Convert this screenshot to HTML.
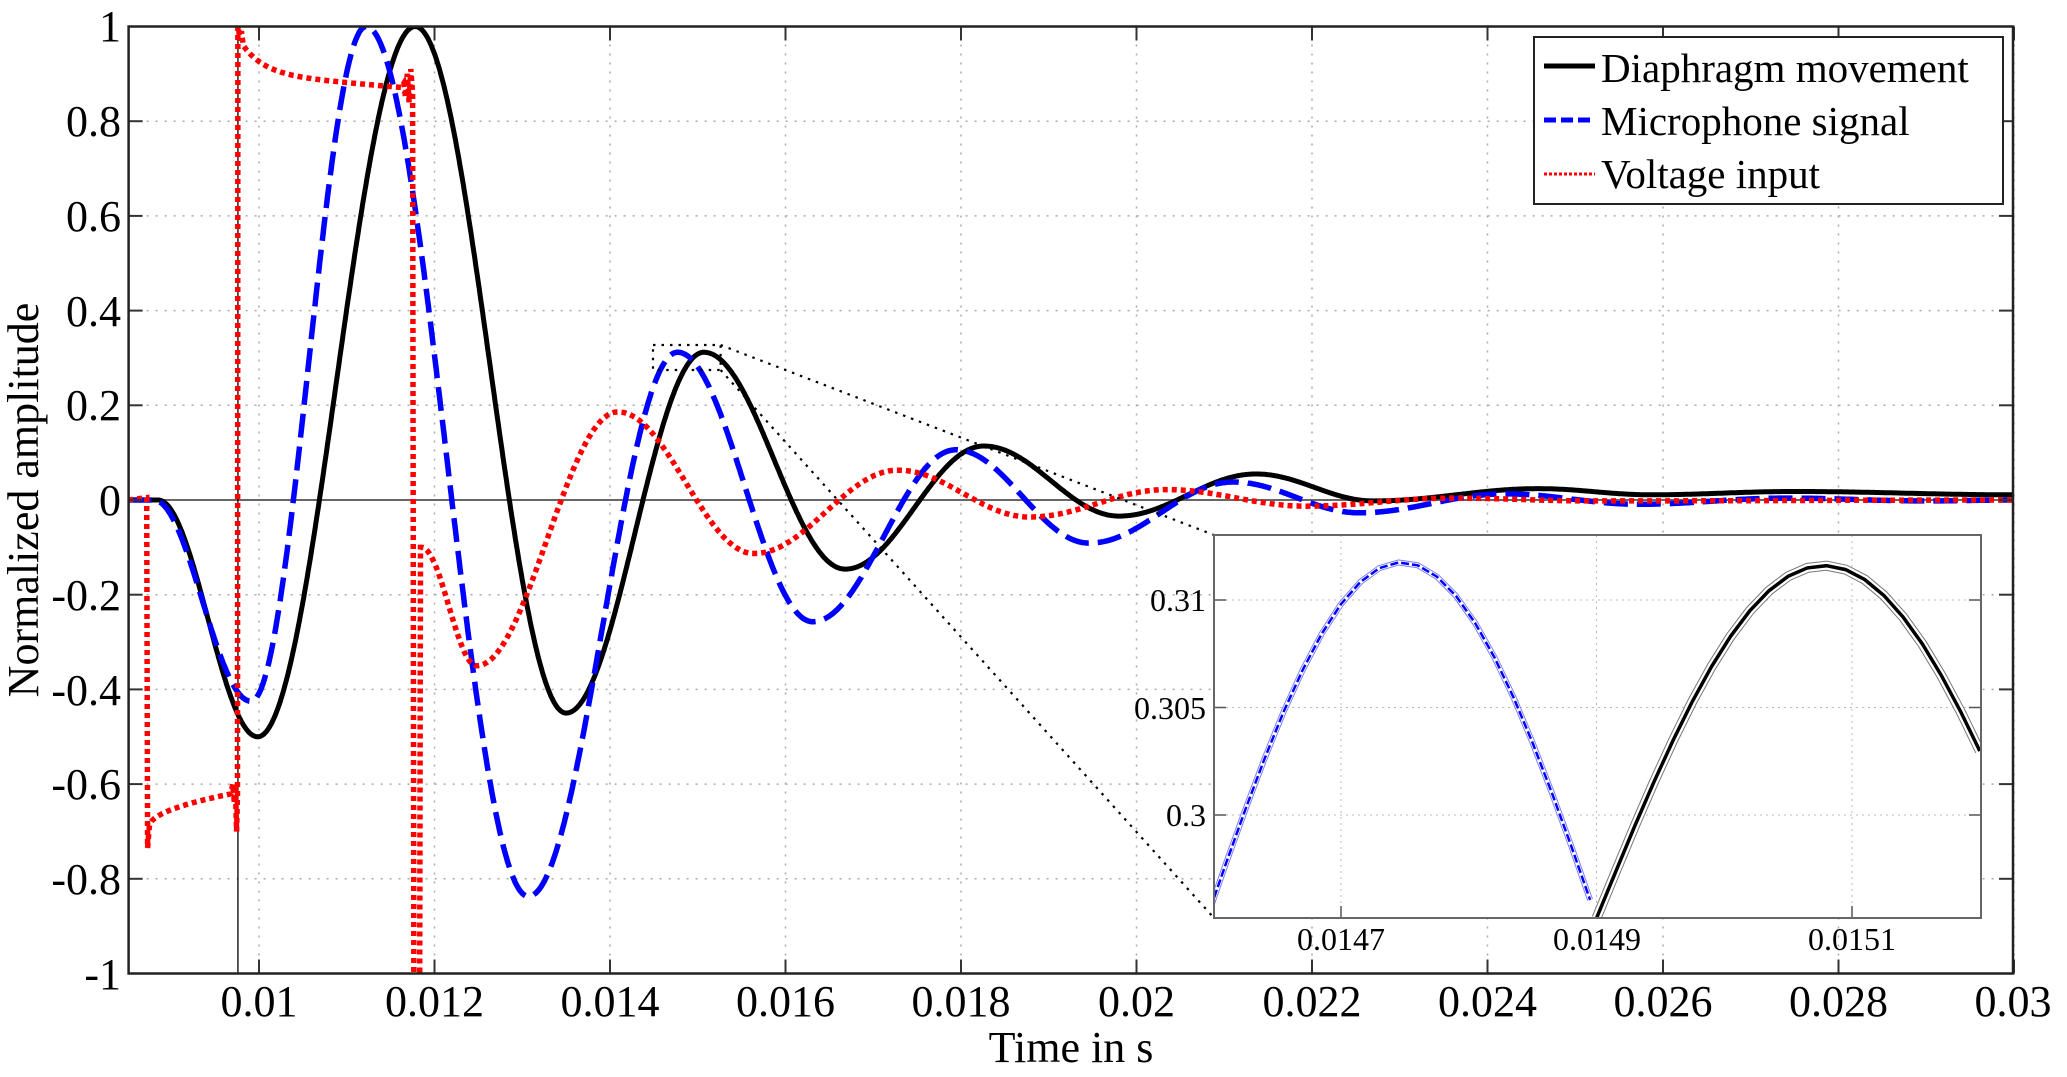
<!DOCTYPE html>
<html><head><meta charset="utf-8">
<style>
html,body{margin:0;padding:0;background:#fff;}
svg{display:block;}
text{font-family:"Liberation Serif","Times New Roman",serif;fill:#000;}
</style></head>
<body>
<svg id="s" width="2067" height="1077" viewBox="0 0 2067 1077" xmlns="http://www.w3.org/2000/svg">
<defs>
<clipPath id="cp"><rect x="128.6" y="26.5" width="1884.4" height="947"/></clipPath>
<clipPath id="ci"><rect x="1214" y="535" width="767" height="383"/></clipPath>
</defs>
<rect width="2067" height="1077" fill="#fff"/>
<g id="grid"></g>
<g id="main" clip-path="url(#cp)"></g>
<g id="frame"></g>
<!-- y tick labels -->
<g font-size="44" text-anchor="end">
<text x="121" y="41">1</text>
<text x="121" y="136">0.8</text>
<text x="121" y="231">0.6</text>
<text x="121" y="326">0.4</text>
<text x="121" y="420">0.2</text>
<text x="121" y="515">0</text>
<text x="121" y="610">-0.2</text>
<text x="121" y="705">-0.4</text>
<text x="121" y="799">-0.6</text>
<text x="121" y="894">-0.8</text>
<text x="121" y="989">-1</text>
</g>
<g font-size="44" text-anchor="middle">
<text x="259" y="1016">0.01</text>
<text x="434.5" y="1016">0.012</text>
<text x="610" y="1016">0.014</text>
<text x="785.5" y="1016">0.016</text>
<text x="961" y="1016">0.018</text>
<text x="1136.5" y="1016">0.02</text>
<text x="1312" y="1016">0.022</text>
<text x="1487.5" y="1016">0.024</text>
<text x="1663" y="1016">0.026</text>
<text x="1838.5" y="1016">0.028</text>
<text x="2013" y="1016">0.03</text>
<text x="1071" y="1062">Time in s</text>
<text transform="translate(38,500) rotate(-90)">Normalized amplitude</text>
</g>
<!-- legend -->
<g>
<rect x="1534" y="37" width="469" height="167" fill="#fff" stroke="#222" stroke-width="2"/>
<line x1="1544" y1="66" x2="1595" y2="66" stroke="#000" stroke-width="5"/>
<line x1="1544" y1="120" x2="1595" y2="120" stroke="#0000ff" stroke-width="5" stroke-dasharray="12 5"/>
<line x1="1544" y1="174" x2="1595" y2="174" stroke="#ff0000" stroke-width="3" stroke-dasharray="3 2"/>
<g font-size="41"><text x="1601" y="82">Diaphragm movement</text>
<text x="1601" y="135">Microphone signal</text>
<text x="1601" y="188">Voltage input</text></g>
</g>
<!-- inset -->
<g id="inset">
<rect x="1214" y="535" width="767" height="383" fill="#fff"/>
<g id="igrid"></g>
<g id="icurves" clip-path="url(#ci)"></g>
<rect x="1214" y="535" width="767" height="383" fill="none" stroke="#666" stroke-width="2"/>
<g font-size="32" text-anchor="end">
<text x="1206" y="611">0.31</text>
<text x="1206" y="719">0.305</text>
<text x="1206" y="826">0.3</text>
</g>
<g font-size="32" text-anchor="middle">
<text x="1341" y="950">0.0147</text>
<text x="1597" y="950">0.0149</text>
<text x="1852" y="950">0.0151</text>
</g>
</g>
</svg>
<script>
var NS="http://www.w3.org/2000/svg";
function el(p,tag,a){var e=document.createElementNS(NS,tag);for(var k in a)e.setAttribute(k,a[k]);p.appendChild(e);return e;}
function X(t){return 259+(t-10)*87.75;}
function Y(v){return 500-v*473.5;}
var grid=document.getElementById('grid'),frame=document.getElementById('frame'),main=document.getElementById('main');
var L=128.6,R=2013,T=26.5,B=973.5;
for(var i=0;i<=10;i++){var x=X(10+2*i);
 el(grid,'line',{x1:x,y1:T,x2:x,y2:B,stroke:'#aaa','stroke-width':1.5,'stroke-dasharray':'2 7'});
 el(frame,'line',{x1:x,y1:B,x2:x,y2:B-14,stroke:'#333','stroke-width':2});
 el(frame,'line',{x1:x,y1:T,x2:x,y2:T+14,stroke:'#333','stroke-width':2});}
for(var j=-5;j<=5;j++){var y=Y(j*0.2);
 if(j!==0&&j!==5&&j!==-5)el(grid,'line',{x1:L,y1:y,x2:R,y2:y,stroke:'#aaa','stroke-width':1.5,'stroke-dasharray':'2 7'});
 el(frame,'line',{x1:L,y1:y,x2:L+14,y2:y,stroke:'#333','stroke-width':2});
 el(frame,'line',{x1:R,y1:y,x2:R-14,y2:y,stroke:'#333','stroke-width':2});}
el(grid,'line',{x1:L,y1:500,x2:R,y2:500,stroke:'#666','stroke-width':2});
el(frame,'rect',{x:L,y:T,width:R-L,height:B-T,fill:'none',stroke:'#222','stroke-width':2.5});

function interp(pts,t){
 if(t<=pts[0][0])return pts[0][1];
 for(var i=0;i<pts.length-1;i++){var a=pts[i],b=pts[i+1];
  if(t<=b[0]){var u=(t-a[0])/(b[0]-a[0]);return a[1]+(b[1]-a[1])*(1-Math.cos(Math.PI*u))/2;}}
 return pts[pts.length-1][1];}
function pathFrom(f,t0,t1,dt){var d='';for(var t=t0;t<=t1+1e-9;t+=dt){d+=(d?'L':'M')+X(t).toFixed(1)+' '+Y(f(t)).toFixed(1);}return d;}

var black=[[8.4,0],[8.85,0],[9.985,-0.5],[11.78,1.0],[13.5,-0.45],[15.07,0.312],[16.68,-0.146],[18.26,0.114],[19.8,-0.034],[21.36,0.055],[22.7,-0.002],[24.58,0.024],[25.86,0.011],[27.5,0.018],[30,0.011]];
var blue=[[8.4,0],[8.8,0],[9.91,-0.425],[11.22,1.0],[13.07,-0.837],[14.77,0.312],[16.31,-0.257],[17.94,0.106],[19.46,-0.091],[21.1,0.038],[22.54,-0.027],[24.2,0.013],[25.72,-0.009],[27.4,0.004],[29,-0.002],[30,0]];
var red=[[11.85,-0.1],[12.48,-0.35],[14.09,0.186],[15.64,-0.113],[17.28,0.063],[18.78,-0.036],[20.34,0.022],[21.93,-0.013],[23.6,0.004],[25.2,-0.002],[30,0]];

// thin black vertical at 9.76
el(main,'line',{x1:X(9.76),y1:Y(1),x2:X(9.76),y2:Y(-1),stroke:'#000','stroke-width':1.3});

// red
var rd='M'+X(8.51)+' '+Y(0);
function addR(t,v){rd+='L'+X(t).toFixed(1)+' '+Y(v).toFixed(1);}
addR(8.72,0.005);addR(8.73,-0.735);addR(8.75,-0.69);
for(var t=8.76;t<=9.68;t+=0.02)addR(t,-0.69+0.07*Math.sqrt((t-8.75)/0.95));
addR(9.70,-0.6);addR(9.72,-0.64);addR(9.73,-0.6);addR(9.745,-0.7);addR(9.755,-0.62);addR(9.76,1.02);addR(9.78,0.97);addR(9.8,0.99);addR(9.82,0.96);
for(var t=9.84;t<=11.62;t+=0.02)addR(t,0.87+0.065*Math.exp(-(t-9.8)/0.25)+0.03*(11.7-t)/1.9);
addR(11.65,0.88);addR(11.67,0.85);addR(11.69,0.9);addR(11.71,0.84);addR(11.73,0.91);addR(11.75,0.86);addR(11.765,-1.1);addR(11.83,-1.1);addR(11.84,-0.1);
for(var t=11.86;t<=30;t+=0.02)addR(t,interp(red,t));
el(main,'path',{d:pathFrom(function(t){return interp(black,t);},8.5,30,0.01),fill:'none',stroke:'#000','stroke-width':5});
el(main,'path',{d:pathFrom(function(t){return interp(blue,t);},8.5,30,0.01),fill:'none',stroke:'#0000ff','stroke-width':5.5,'stroke-dasharray':'24 9'});
el(main,'path',{d:rd,fill:'none',stroke:'#ff0000','stroke-width':5.5,'stroke-dasharray':'5 4'});

// zoom indicator
var z={stroke:'#000','stroke-width':2.2,'stroke-dasharray':'2.5 6',fill:'none'};
var zr=el(document.getElementById('s'),'rect',{x:653,y:345,width:67.6,height:25});for(var k in z)zr.setAttribute(k,z[k]);
var l1=el(document.getElementById('s'),'line',{x1:720.6,y1:345,x2:1214,y2:535});for(var k in z)l1.setAttribute(k,z[k]);
var l2=el(document.getElementById('s'),'line',{x1:720.6,y1:370,x2:1214,y2:918});for(var k in z)l2.setAttribute(k,z[k]);
// move inset to top
var s=document.getElementById('s');s.appendChild(document.getElementById('inset'));

// inset
function IX(t){return 1341+(t-14.7)*1277.5;}
function IY(v){return 600-(v-0.31)*21500;}
var ig=document.getElementById('igrid');
[14.7,14.9,15.1].forEach(function(t){el(ig,'line',{x1:IX(t),y1:535,x2:IX(t),y2:918,stroke:'#bbb','stroke-width':1,'stroke-dasharray':'2 4'});
 el(ig,'line',{x1:IX(t),y1:918,x2:IX(t),y2:906,stroke:'#555','stroke-width':1.5});});
[0.3,0.305,0.31].forEach(function(v){el(ig,'line',{x1:1214,y1:IY(v),x2:1981,y2:IY(v),stroke:'#bbb','stroke-width':1,'stroke-dasharray':'2 4'});
 el(ig,'line',{x1:1214,y1:IY(v),x2:1226,y2:IY(v),stroke:'#555','stroke-width':1.5});
 el(ig,'line',{x1:1981,y1:IY(v),x2:1969,y2:IY(v),stroke:'#555','stroke-width':1.5});});
var ic=document.getElementById('icurves');
function ipath(f,t0,t1){var d='';for(var t=t0;t<=t1+1e-9;t+=0.015){d+=(d?'L':'M')+IX(t).toFixed(1)+' '+IY(f(t)).toFixed(1);}return d;}
function fb(t){var a=0.2952,p=0.31175,c=14.7475;var w=0.1525;return a+(p-a)*Math.cos(Math.PI/2*(t-c)/w);}
function fk(t){var a=0.2952,p=0.3116,c=15.078;var w=0.178;return a+(p-a)*Math.cos(Math.PI/2*(t-c)/w);}
var db=ipath(fb,14.595,14.9),dk=ipath(fk,14.9,15.21);
el(ic,'path',{d:db,fill:'none',stroke:'#8080ff','stroke-width':6});
el(ic,'path',{d:db,fill:'none',stroke:'#fff','stroke-width':4});
el(ic,'path',{d:db,fill:'none',stroke:'#0000ff','stroke-width':2.5,'stroke-dasharray':'8 3'});
el(ic,'path',{d:dk,fill:'none',stroke:'#777','stroke-width':10});
el(ic,'path',{d:dk,fill:'none',stroke:'#fff','stroke-width':8});
el(ic,'path',{d:dk,fill:'none',stroke:'#000','stroke-width':3.5});
</script>
</body></html>
